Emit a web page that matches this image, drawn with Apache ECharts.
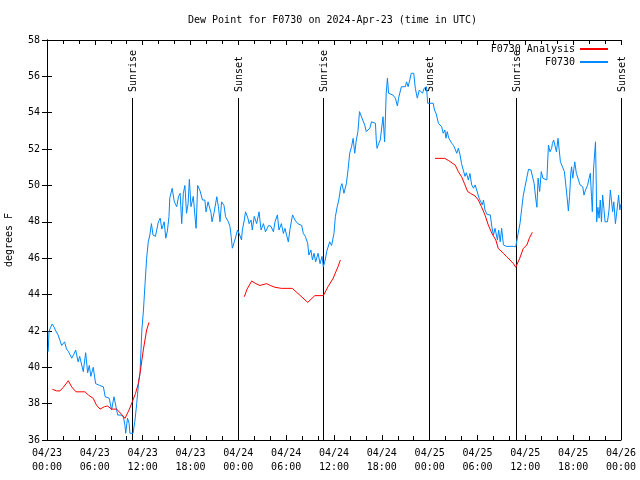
<!DOCTYPE html>
<html><head><meta charset="utf-8">
<script src="https://cdn.jsdelivr.net/npm/echarts@6/dist/echarts.min.js"></script>
<style>html,body{margin:0;padding:0;background:#fff}#c{width:640px;height:480px}</style>
</head><body><div id="c"></div>
<script>
const FONT = '"DejaVu Sans Mono", "Liberation Mono", monospace';
const titleText = 'Dew Point for F0730 on 2024-Apr-23 (time in UTC)';
const xTickLabels = ['04/23\n00:00','04/23\n06:00','04/23\n12:00','04/23\n18:00','04/24\n00:00','04/24\n06:00','04/24\n12:00','04/24\n18:00','04/25\n00:00','04/25\n06:00','04/25\n12:00','04/25\n18:00','04/26\n00:00'];
const sunHours = [10.7, 23.92, 34.66, 47.96, 58.8, 72.0];
const sunLabels = ['Sunrise','Sunset','Sunrise','Sunset','Sunrise','Sunset'];

// F0730 observations: hours since 04/23 00:00 UTC, dew point (F)
const blueHours = [0.15,0.25,0.45,0.66,0.9,1.1,1.4,1.6,1.84,2.0,2.2,2.45,2.7,2.9,3.1,3.35,3.6,3.9,4.1,4.27,4.55,4.85,5.1,5.3,5.5,5.8,6.1,6.35,6.6,6.85,7.07,7.3,7.55,7.8,8.1,8.4,8.6,8.87,9.1,9.3,9.58,9.78,9.87,10.1,10.3,10.4,10.6,10.8,11.04,11.25,11.5,11.67,11.9,12.1,12.3,12.5,12.7,12.9,13.1,13.3,13.6,13.97,14.2,14.4,14.7,14.9,15.1,15.3,15.4,15.7,15.97,16.27,16.5,16.7,16.9,17.1,17.3,17.5,17.7,17.86,18.06,18.35,18.6,18.7,18.9,19.2,19.5,19.8,19.95,20.2,20.57,20.7,20.95,21.3,21.5,21.7,21.9,22.2,22.4,22.75,22.95,23.1,23.25,23.5,23.7,23.9,24.1,24.4,24.5,24.75,24.9,25.2,25.35,25.6,25.75,26.0,26.3,26.6,26.85,27.15,27.4,27.8,28.1,28.4,28.6,28.9,29.1,29.4,29.65,29.85,30.05,30.27,30.5,30.8,31.1,31.45,31.95,32.15,32.4,32.7,32.85,33.1,33.3,33.5,33.7,34.0,34.25,34.5,34.66,34.9,35.08,35.25,35.46,35.7,36.0,36.17,36.4,36.6,36.85,37.0,37.25,37.55,37.76,37.97,38.2,38.4,38.6,38.8,39.0,39.2,39.4,39.6,39.85,40.05,40.27,40.5,40.7,40.9,41.2,41.3,41.4,41.6,41.8,42.15,42.35,42.55,42.7,42.85,43.1,43.4,43.7,43.95,44.1,44.45,44.95,45.1,45.3,45.5,45.7,46.0,46.2,46.45,46.7,47.1,47.3,47.5,47.6,47.75,48.0,48.45,48.6,48.8,49.1,49.3,49.5,49.7,49.9,50.05,50.2,50.4,50.77,51.0,51.2,51.4,51.6,51.8,52.0,52.2,52.43,52.6,52.85,53.05,53.27,53.5,53.7,53.9,54.2,54.4,54.6,54.75,54.94,55.2,55.6,55.8,56.0,56.2,56.35,56.5,56.65,56.85,57.03,57.25,57.6,58.1,58.5,58.8,59.1,59.33,59.55,59.75,59.96,60.17,60.4,60.7,60.9,61.1,61.3,61.45,61.6,61.8,62.0,62.2,62.4,62.7,62.9,63.1,63.3,63.4,63.55,63.7,63.9,64.1,64.27,64.4,64.6,64.9,65.1,65.27,65.4,65.55,65.7,65.8,65.95,66.1,66.2,66.4,66.6,66.86,67.2,67.36,67.55,67.8,68.0,68.15,68.3,68.4,68.55,68.8,68.9,68.95,69.1,69.25,69.4,69.55,69.7,69.85,70.0,70.3,70.5,70.66,70.8,70.95,71.1,71.3,71.5,71.7,71.85,72.0];
const blueValues = [40.86,41.96,42.2,42.38,42.2,42.0,41.77,41.75,41.2,41.3,41.4,41.0,40.86,40.9,40.5,40.7,40.95,40.3,40.6,40.5,39.76,40.8,39.7,40.1,39.5,40.0,39.1,39.2,39.0,39.0,38.93,38.38,38.35,38.3,37.65,38.38,38.3,37.37,37.4,37.37,37.28,36.8,36.37,37.2,36.9,36.37,36.37,36.37,37.1,38.0,39.2,39.7,42.05,43.15,44.6,46.0,46.9,47.27,47.9,47.27,47.2,48.0,48.2,47.6,48.0,47.1,47.5,48.28,49.3,49.84,49.1,48.83,49.4,49.57,47.9,49.57,50.0,48.47,49.0,50.34,48.83,49.4,48.1,47.64,50.0,49.7,49.2,49.2,48.55,49.1,48.5,48.0,48.5,49.38,48.83,48.0,49.1,48.9,48.28,48.0,47.75,47.2,46.55,46.9,47.0,47.55,47.36,47.0,47.55,48.1,48.55,48.2,47.9,48.1,47.55,48.3,47.9,48.55,47.55,47.9,47.45,47.8,47.75,47.45,48.0,48.38,47.55,47.9,47.36,47.64,47.27,46.9,47.64,48.38,48.1,47.9,47.8,47.36,47.2,46.82,46.17,46.45,45.9,46.27,45.8,46.27,45.7,46.1,45.53,45.9,46.36,46.45,46.9,46.7,47.37,48.28,48.83,49.2,49.93,50.1,49.57,50.1,50.85,51.77,52.13,52.59,51.77,52.5,52.96,54.06,53.97,53.6,53.33,52.96,52.87,53.15,53.5,53.42,53.42,52.5,52.04,52.3,52.5,53.78,52.4,55.07,55.9,55.07,54.97,54.97,54.8,54.37,54.8,55.43,55.43,55.7,55.43,55.8,56.17,56.17,55.34,54.8,55.25,55.07,55.34,55.25,55.43,54.52,54.6,54.52,54.15,53.97,53.42,53.5,53.23,52.87,53.05,52.6,52.96,52.6,52.32,52.2,52.2,51.77,52.05,51.7,51.2,51.1,50.5,50.7,50.3,50.66,50.03,49.85,50.03,49.75,49.3,49.2,48.93,49.2,48.65,48.4,48.38,47.73,47.27,47.64,47.73,47.0,47.55,46.9,47.64,46.73,46.65,46.65,46.65,46.63,47.37,47.9,48.74,49.47,49.93,50.4,50.89,50.85,50.76,50.12,49.3,48.8,50.4,49.67,50.76,50.4,50.3,50.3,52.22,51.85,52.04,52.32,52.5,52.59,51.85,52.59,52.68,51.3,51.4,50.76,49.93,49.2,48.6,49.4,50.67,51.03,50.4,50.94,51.3,50.67,50.76,50.03,49.93,49.47,49.75,50.0,50.4,50.67,49.4,48.56,50.85,52.4,50.03,48.0,48.8,48.2,49.2,48.0,49.47,48.74,48.0,48.0,48.65,49.75,49.2,48.56,49.1,47.9,48.65,49.47,48.65,49.0];

// F0730 Analysis: three separate runs
const red1Hours = [0.67,1.2,1.63,2.05,2.67,3.1,3.64,4.77,5.2,5.8,6.2,6.65,7.2,7.6,8.1,8.74,9.37,9.78,10.29,10.7,11.1,11.45,11.67,12.08,12.5,12.8];
const red1Values = [38.79,38.7,38.7,38.9,39.26,38.92,38.65,38.65,38.47,38.29,37.92,37.7,37.83,37.87,37.7,37.7,37.4,37.19,37.65,38.1,38.56,39.1,39.67,40.95,42.05,42.47];
const red2Hours = [24.75,25.1,25.67,26.2,26.7,27.55,28.0,28.6,29.4,30.77,31.7,32.7,33.6,34.66,35.25,35.9,36.5,36.8];
const red2Values = [43.88,44.3,44.74,44.6,44.5,44.6,44.5,44.4,44.34,44.34,43.97,43.57,43.94,43.94,44.43,44.9,45.53,45.9];
const red3Hours = [48.67,49.9,50.4,51.2,51.6,52.0,52.35,52.77,53.1,53.7,54.1,54.5,54.94,55.36,55.8,56.3,56.6,57.25,57.65,58.08,58.5,58.8,59.3,59.75,60.2,60.5,60.88];
const red3Values = [51.49,51.49,51.36,51.12,50.76,50.48,50.12,49.66,49.57,49.42,49.2,48.83,48.37,47.82,47.37,47.0,46.54,46.27,46.08,45.9,45.7,45.5,46.0,46.54,46.73,47.1,47.42];

const zip = (a, b) => a.map((h, i) => [h, b[i]]);
const RED = '#ff0000', BLUE = '#0088ff';

const tickStyle = {color: '#000', width: 1};
function xAx(pos, showLabel) {
  return {
    type: 'value', min: 0, max: 72, interval: 6, position: pos,
    axisLine: {show: true, lineStyle: {color: '#000', width: 1}},
    axisTick: {show: true, inside: true, length: 5, lineStyle: tickStyle},
    minorTick: {show: true, splitNumber: 3, length: 4, lineStyle: tickStyle},
    splitLine: {show: false},
    axisLabel: {show: showLabel, formatter: v => xTickLabels[Math.round(v / 6)] || '',
      fontFamily: FONT, fontSize: 10, color: '#000', lineHeight: 14, margin: 6}
  };
}
function yAx(pos, showLabel) {
  const o = {
    type: 'value', min: 36, max: 58, interval: 2, position: pos,
    axisLine: {show: true, lineStyle: {color: '#000', width: 1}},
    axisTick: {show: true, inside: true, length: 5, lineStyle: tickStyle},
    splitLine: {show: false},
    axisLabel: {show: showLabel, fontFamily: FONT, fontSize: 10, color: '#000', margin: 7}
  };
  if (showLabel) {
    Object.assign(o, {name: 'degrees F', nameLocation: 'middle', nameRotate: 90, nameGap: 33,
      nameTextStyle: {fontFamily: FONT, fontSize: 10, color: '#000'}});
  }
  return o;
}

const chart = echarts.init(document.getElementById('c'), null, {renderer: 'canvas'});
chart.setOption({
  animation: false,
  backgroundColor: '#fff',
  title: {text: titleText, left: 188, top: 15, padding: 0,
    textStyle: {fontFamily: FONT, fontSize: 10, fontWeight: 'normal', color: '#000'}},
  grid: {left: 47, right: 19, top: 40, bottom: 40, containLabel: false, outerBoundsMode: 'none'},
  legend: {orient: 'vertical', right: 31, top: 44, padding: 0, align: 'right', itemWidth: 28, itemHeight: 12, itemGap: 3,
    data: ['F0730 Analysis', 'F0730'],
    itemStyle: {opacity: 0},
    textStyle: {fontFamily: FONT, fontSize: 10, color: '#000'}},
  xAxis: [xAx('bottom', true), xAx('top', false)],
  yAxis: [yAx('left', true), yAx('right', false)],
  series: [
    {name: 'F0730', type: 'line', data: zip(blueHours, blueValues), symbol: 'none', showSymbol: false,
      lineStyle: {color: BLUE, width: 1}, itemStyle: {color: BLUE}},
    {name: 'F0730 Analysis', type: 'line', data: zip(red1Hours, red1Values), symbol: 'none', showSymbol: false,
      lineStyle: {color: RED, width: 1}, itemStyle: {color: RED}},
    {name: 'F0730 Analysis', type: 'line', data: zip(red2Hours, red2Values), symbol: 'none', showSymbol: false,
      lineStyle: {color: RED, width: 1}, itemStyle: {color: RED}},
    {name: 'F0730 Analysis', type: 'line', data: zip(red3Hours, red3Values), symbol: 'none', showSymbol: false,
      lineStyle: {color: RED, width: 1}, itemStyle: {color: RED}},
    {name: 'sun', type: 'custom', clip: false, silent: true,
      data: sunHours.map(h => [h, 36]),
      encode: {x: 0, y: 1},
      renderItem: function (params, api) {
        const x = Math.round(api.coord([api.value(0), 58])[0]) + 0.5;
        const yTop = api.coord([0, 58])[1];
        const yBot = api.coord([0, 36])[1];
        return {type: 'group', children: [
          {type: 'line', shape: {x1: x, y1: yTop + 58, x2: x, y2: yBot}, style: {stroke: '#000', lineWidth: 1}},
          {type: 'text', x: x + 1, y: yTop + 52, rotation: Math.PI / 2,
            style: {text: sunLabels[params.dataIndex], fill: '#000', fontFamily: FONT, fontSize: 10,
              align: 'left', verticalAlign: 'middle'}}
        ]};
      }}
  ]
});
</script>
</body></html>
